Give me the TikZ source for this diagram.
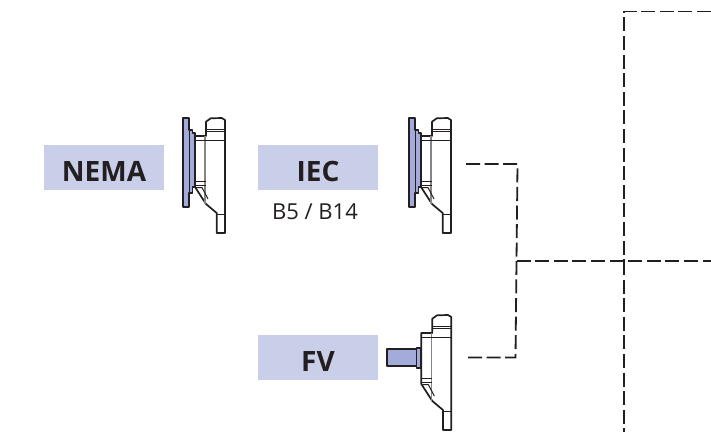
\documentclass[tikz,border=0pt]{standalone}
\usepackage{fontspec}
\setmainfont{Open Sans}
\definecolor{lab}{HTML}{C9CFE9}
\definecolor{plate}{HTML}{A3ABDB}
\definecolor{ink}{HTML}{231F20}
\newcommand{\boxtext}[1]{\raisebox{-13.5pt}[0pt][0pt]{#1}}
\tikzset{
  labelbox/.style={fill=lab,minimum width=120pt,minimum height=45pt,inner sep=0pt,font=\fontsize{28}{32}\selectfont\bfseries,text=ink},
  sublabel/.style={font=\fontsize{22}{26}\selectfont,text=ink,inner sep=0pt},
  outline/.style={draw=ink,line width=1.7pt,line join=round},
  thinl/.style={draw=ink,line width=1pt},
  grayl/.style={draw=ink!55,line width=1.2pt},
  conn/.style={draw=ink,line width=1.8pt,dash pattern=on 14pt off 4.6pt},
  pics/body/.style={code={
    \path[outline,fill=white] (206,136) -- (206,121.7) -- (210.7,118.3) -- (221.7,118) -- (225,120) -- (225,233) -- (216.7,233) -- (216.7,213) -- (206,204) -- (195,187) -- (195,136) -- cycle;
    \draw[thinl] (206.5,129) -- (225,129) (206.5,131.5) -- (225,131.5);
    \draw[grayl] (205,136) -- (205,204);
    \draw[thinl] (195,140) -- (225,140);
    \draw[thinl] (195,181.5) -- (206,181.5) (195,185) -- (206,185);
    \draw[thinl] (196,187.5) -- (202,187.5) -- (208,199);
    \draw[thinl] (216.7,214.5) -- (225,214.5);
  }},
  pics/plates/.style={code={
    \path[outline,fill=plate] (183.3,117.7) -- (189.3,117.7) -- (189.3,130) -- (192.5,130) -- (192.5,133) -- (195,133) -- (195,187) -- (192.5,187) -- (192.5,193) -- (189.3,193) -- (189.3,206.7) -- (183.3,206.7) -- cycle;
    \draw[thinl] (189.3,130) -- (189.3,193);
  }},
}
\begin{document}
\begin{tikzpicture}[x=1pt,y=-1pt]
\useasboundingbox (0,0) rectangle (711,432);
% labels
\node[labelbox] (nema) at (104,167.5) {\boxtext{NEMA}};
\node[labelbox] (iec) at (318,167.5) {\boxtext{IEC}};
\node[sublabel] (bfive) at (315,212) {B5 / B14};
\node[labelbox] (fv) at (318,357.5) {\boxtext{FV}};
% NEMA flange
\pic at (0,0) {body};
\pic at (0,0) {plates};
% IEC flange
\pic at (226,0) {body};
\pic at (226,0) {plates};
% FV flange
\pic at (226.3,197) {body};
\path[outline,fill=plate] (386.7,349) -- (416.5,349) -- (416.5,366) -- (386.7,366) -- cycle;
\path[outline,fill=plate] (416.5,347.7) -- (421.3,347.7) -- (421.3,367.7) -- (416.5,367.7) -- cycle;
% connectors
\coordinate (a) at (466,164);
\coordinate (b) at (517.5,164);
\coordinate (j) at (516.5,261);
\coordinate (c) at (515.5,357.5);
\coordinate (d) at (468,357.5);
\coordinate (e) at (711,261);
\coordinate (t) at (624,11.4);
\coordinate (r) at (711,11.4);
\coordinate (u) at (624,432);
\coordinate (x) at (624,261);
\draw[conn] (a) -- (b) -- (j);
\draw[conn] (d) -- (c) -- (j);
\draw[conn] (j) -- (e);
\draw[conn] (r) -- (t) -- (x);
\draw[conn] (x) -- (u);
\end{tikzpicture}
\end{document}
